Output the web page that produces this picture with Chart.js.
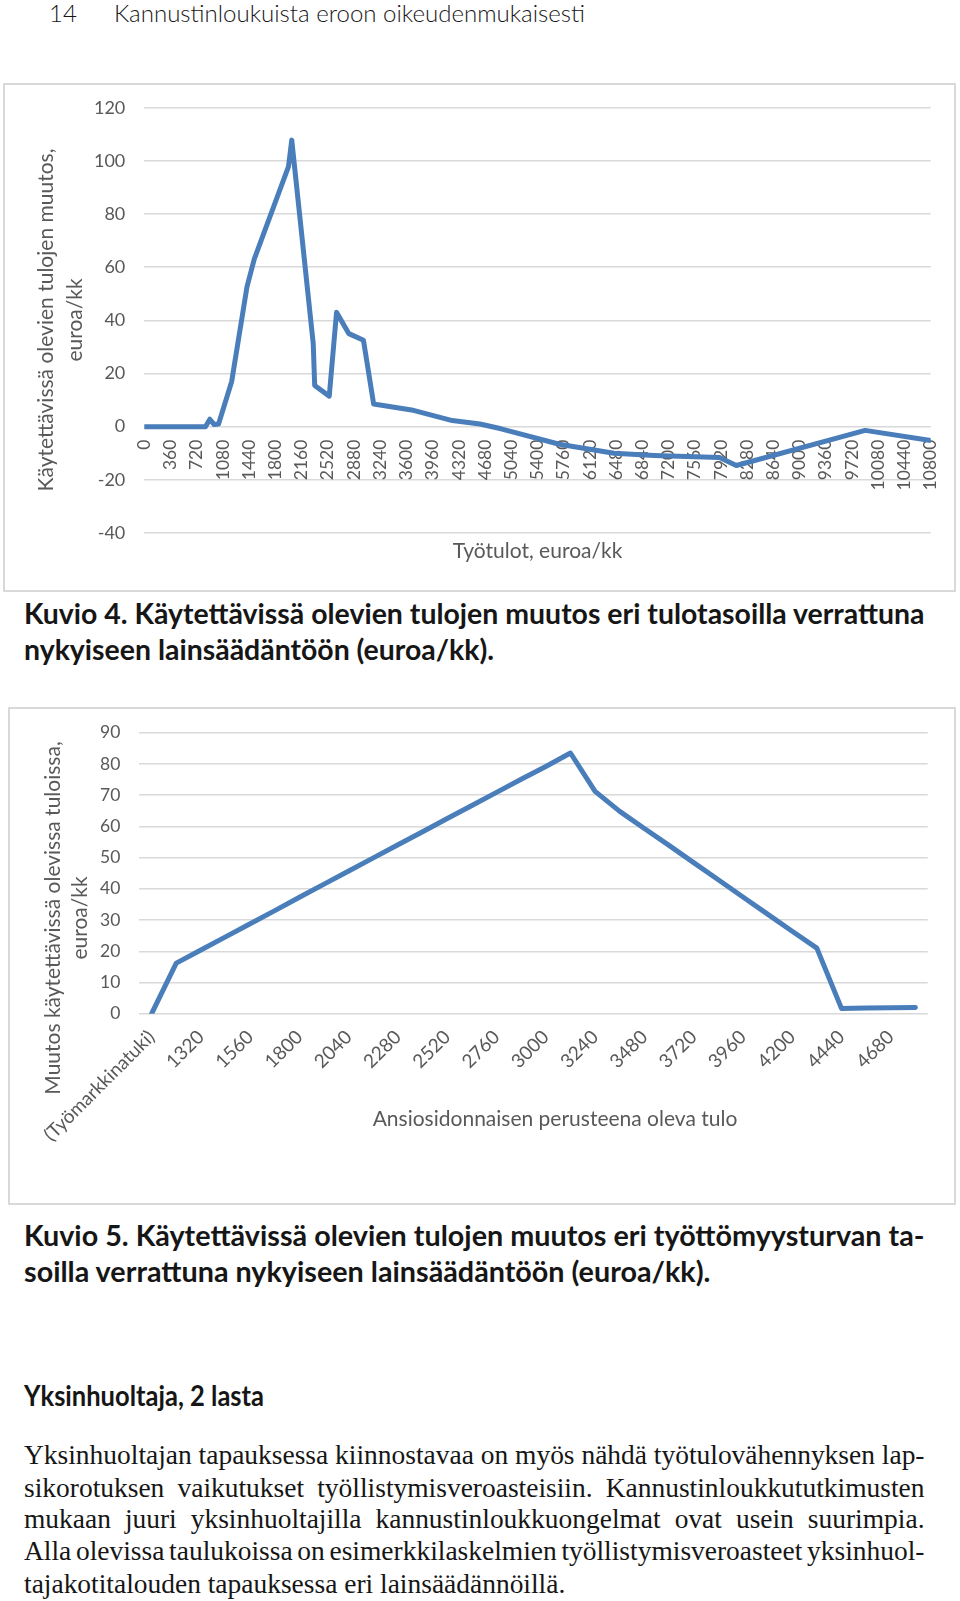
<!DOCTYPE html>
<html lang="fi">
<head>
<meta charset="utf-8">
<title>Kuviot 4 ja 5</title>
<script src="https://cdn.jsdelivr.net/npm/chart.js@4.4.1/dist/chart.umd.min.js"></script>
<style>
  html, body { margin: 0; padding: 0; background: #fff; }
  body { width: 960px; height: 1601px; position: relative; overflow: hidden; color: #161616; }
  .frame { position: absolute; border: 2px solid #d9d9d9; box-sizing: border-box; }
  canvas { position: absolute; left: 0; }
  .row { position: absolute; left: 23.5px; white-space: nowrap; }
  .ln { display: inline-block; white-space: nowrap; transform-origin: 0 50%; }
  .head { font-family: Lato, sans-serif; font-weight: 300; font-size: 24px; line-height: 30px; }
  .cap { font-family: Lato, sans-serif; font-weight: 700; font-size: 28px; line-height: 30px; }
  .txt { font-family: "Liberation Serif", serif; font-size: 26.5px; line-height: 30px; }
</style>
</head>
<body>

<div class="row head" style="left:49px; top:-2px;"><span class="ln">14</span></div>
<div class="row head fit" data-w="471" style="left:114px; top:-2px;"><span class="ln">Kannustinloukuista eroon oikeudenmukaisesti</span></div>

<div class="frame" style="left:3px; top:83px; width:953px; height:509px;"></div>
<canvas id="kuvio4" width="960" height="509" style="top:83px;"></canvas>

<div class="block" data-w="900.5">
  <div class="row cap" style="top:598px;"><span class="ln">Kuvio 4. Käytettävissä olevien tulojen muutos eri tulotasoilla verrattuna</span></div>
  <div class="row cap" style="top:634px;"><span class="ln">nykyiseen lainsäädäntöön (euroa/kk).</span></div>
</div>

<div class="frame" style="left:8px; top:707px; width:948px; height:498px;"></div>
<canvas id="kuvio5" width="960" height="490" style="top:707px;"></canvas>

<div class="block" data-w="900.5">
  <div class="row cap" style="top:1220px;"><span class="ln">Kuvio 5. Käytettävissä olevien tulojen muutos eri työttömyysturvan ta-</span></div>
  <div class="row cap" style="top:1256px;"><span class="ln">soilla verrattuna nykyiseen lainsäädäntöön (euroa/kk).</span></div>
</div>

<div class="row cap fit" data-w="240" style="top:1380px;"><span class="ln">Yksinhuoltaja, 2 lasta</span></div>

<div class="block" data-w="900.5">
  <div class="row txt" style="top:1440px;"><span class="ln">Yksinhuoltajan tapauksessa kiinnostavaa on myös nähdä työtulovähennyksen lap-</span></div>
  <div class="row txt" style="top:1473px;"><span class="ln" data-justify="1">sikorotuksen vaikutukset työllistymisveroasteisiin. Kannustinloukkututkimusten</span></div>
  <div class="row txt" style="top:1504px;"><span class="ln" data-justify="1">mukaan juuri yksinhuoltajilla kannustinloukkuongelmat ovat usein suurimpia.</span></div>
  <div class="row txt" style="top:1536px;"><span class="ln" data-justify="1">Alla olevissa taulukoissa on esimerkkilaskelmien työllistymisveroasteet yksinhuol-</span></div>
  <div class="row txt" style="top:1569px;"><span class="ln">tajakotitalouden tapauksessa eri lainsäädännöillä.</span></div>
</div>

<script>
// Kuvio 4: työtulot (euroa/kk) ja käytettävissä olevien tulojen muutos
const kuvio4Tulot = [0, 840, 900, 960, 1020, 1200, 1410, 1510, 1980, 2025, 2320, 2340, 2540, 2640,
  2810, 3010, 3150, 3670, 4230, 4610, 4900, 5700, 6450, 7000, 7900, 8130, 9900, 10800];
const kuvio4Muutos = [0, 0, 2.8, 0.8, 1, 17, 52.6, 63, 97.8, 107.8, 31.3, 15.5, 11.5, 43,
  35, 32.5, 8.5, 6.3, 2.3, 1.0, -0.8, -6.6, -10, -10.8, -11.6, -14.6, -1.4, -5.2];
const kuvio4XTicks = [0, 360, 720, 1080, 1440, 1800, 2160, 2520, 2880, 3240, 3600, 3960, 4320,
  4680, 5040, 5400, 5760, 6120, 6480, 6840, 7200, 7560, 7920, 8280, 8640, 9000, 9360, 9720,
  10080, 10440, 10800];
const kuvio4YTicks = [-40, -20, 0, 20, 40, 60, 80, 100, 120];

// Kuvio 5: ansiosidonnaisen perusteena oleva tulo
const kuvio5Tasot = ["(Työmarkkinatuki)", "1200", "1320", "1440", "1560", "1680", "1800", "1920",
  "2040", "2160", "2280", "2400", "2520", "2640", "2760", "2880", "3000", "3120", "3240", "3360",
  "3480", "3600", "3720", "3840", "3960", "4080", "4200", "4320", "4440", "4560", "4680", "4800"];
const kuvio5Muutos = [0, 16.2, 20.4, 24.6, 28.8, 33, 37.3, 41.5, 45.7, 49.9, 54.1, 58.3, 62.5,
  66.7, 70.9, 75.1, 79.2, 83.5, 71.2, 64.8, 59.3, 53.9, 48.4, 42.9, 37.4, 31.9, 26.4, 21,
  1.7, 1.8, 1.9, 2.0];
const kuvio5YTicks = [0, 10, 20, 30, 40, 50, 60, 70, 80, 90];

const BLUE = "#4a7ebb";
const GRID = "#d9d9d9";
const GREY = "#595959";

// fit text lines to the page column
function fitText() {
  document.querySelectorAll(".block").forEach(block => {
    const width = +block.dataset.w;
    const lines = [...block.querySelectorAll(".ln")];
    const s = width / lines[0].getBoundingClientRect().width;
    lines.forEach(ln => {
      if (ln.dataset.justify) {
        const gaps = (ln.textContent.match(/ /g) || []).length;
        const natural = ln.getBoundingClientRect().width;
        ln.style.wordSpacing = ((width / s - natural) / gaps) + "px";
      }
      ln.style.transform = "scaleX(" + s + ")";
    });
  });
  document.querySelectorAll(".fit").forEach(el => {
    const ln = el.querySelector(".ln");
    const s = +el.dataset.w / ln.getBoundingClientRect().width;
    ln.style.transform = "scaleX(" + s + ")";
  });
}

// axis titles drawn where the original puts them
function axisTitles(items) {
  return {
    id: "axisTitles",
    afterDraw(chart) {
      const ctx = chart.ctx;
      ctx.save();
      ctx.fillStyle = GREY;
      ctx.font = "21px Lato";
      ctx.textAlign = "center";
      ctx.textBaseline = "middle";
      items.forEach(it => {
        ctx.save();
        ctx.translate(it.x, it.y);
        if (it.rot) ctx.rotate(it.rot);
        ctx.fillText(it.text, 0, 0);
        ctx.restore();
      });
      ctx.restore();
    }
  };
}

function yScale(ticks, width, size) {
  return {
    min: ticks[0],
    max: ticks[ticks.length - 1],
    afterBuildTicks: s => { s.ticks = ticks.map(v => ({ value: v })); },
    afterFit: s => { s.width = width; s.paddingTop = 0; s.paddingBottom = 0; },
    grid: { color: GRID, lineWidth: 1.5, drawTicks: false },
    border: { display: false },
    ticks: { padding: 19, color: GREY, font: { family: "Lato", size: size } }
  };
}

const lineStyle = {
  borderColor: BLUE,
  borderWidth: 5,
  pointRadius: 0,
  tension: 0,
  borderJoinStyle: "round",
  borderCapStyle: "round"
};

function createKuvio4() {

  new Chart(document.getElementById("kuvio4"), {
    type: "line",
    data: {
      datasets: [{
        data: kuvio4Tulot.map((x, i) => ({ x: x, y: kuvio4Muutos[i] })),
        ...lineStyle
      }]
    },
    options: {
      responsive: false,
      animation: false,
      events: [],
      layout: { padding: { top: 24.7, bottom: 59, left: 0, right: 29.3 } },
      plugins: { legend: { display: false }, tooltip: { enabled: false } },
      scales: {
        x: {
          type: "linear",
          position: { y: 0 },
          min: 0,
          max: 10800,
          afterBuildTicks: s => { s.ticks = kuvio4XTicks.map(v => ({ value: v })); },
          afterFit: s => { s.paddingLeft = 0; s.paddingRight = 0; },
          grid: { display: false, drawTicks: false },
          border: { display: false },
          ticks: {
            autoSkip: false,
            minRotation: 90,
            maxRotation: 90,
            padding: 13,
            color: GREY,
            font: { family: "Lato", size: 17.5 },
            callback: v => String(v)
          }
        },
        y: yScale(kuvio4YTicks, 144.3, 18)
      }
    },
    plugins: [axisTitles([
      { text: "Käytettävissä olevien tulojen muutos,", x: 46.7, y: 237, rot: -Math.PI / 2 },
      { text: "euroa/kk", x: 75, y: 237, rot: -Math.PI / 2 },
      { text: "Työtulot, euroa/kk", x: 537.5, y: 468.5 }
    ])]
  });

}

function createKuvio5() {

  new Chart(document.getElementById("kuvio5"), {
    type: "line",
    data: {
      labels: kuvio5Tasot,
      datasets: [{ data: kuvio5Muutos, ...lineStyle }]
    },
    options: {
      responsive: false,
      animation: false,
      events: [],
      layout: { padding: { top: 25.7, bottom: 33.3, left: 0, right: 32.3 } },
      plugins: { legend: { display: false }, tooltip: { enabled: false } },
      scales: {
        x: {
          type: "category",
          offset: true,
          afterFit: s => { s.height = 150; s.paddingLeft = 0; s.paddingRight = 0; },
          grid: { display: false, drawTicks: false },
          border: { display: false },
          ticks: {
            autoSkip: false,
            minRotation: 45,
            maxRotation: 45,
            padding: 12,
            color: GREY,
            font: { family: "Lato", size: 19 },
            callback: function (v, i) {
              return i % 2 === 0 ? this.getLabelForValue(v) : "";
            }
          }
        },
        y: yScale(kuvio5YTicks, 139.3, 17.5)
      }
    },
    plugins: [axisTitles([
      { text: "Muutos käytettävissä olevissa tuloissa,", x: 53.3, y: 211, rot: -Math.PI / 2 },
      { text: "euroa/kk", x: 80, y: 211, rot: -Math.PI / 2 },
      { text: "Ansiosidonnaisen perusteena oleva tulo", x: 555, y: 412 }
    ])]
  });

}

fitText();
createKuvio4();
createKuvio5();
</script>
</body>
</html>
